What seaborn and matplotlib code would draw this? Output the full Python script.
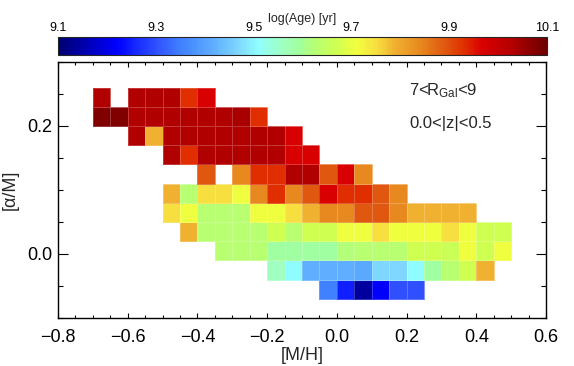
import numpy as np
import pandas as pd
import matplotlib
matplotlib.use("Agg")
import matplotlib.pyplot as plt
from matplotlib.colors import LinearSegmentedColormap
from matplotlib.ticker import MultipleLocator
import seaborn as sns

sns.set_style("ticks")
plt.rcParams['font.family'] = ['Liberation Sans', 'DejaVu Sans']
plt.rcParams['mathtext.fontset'] = 'custom'
plt.rcParams['mathtext.rm'] = 'Liberation Sans'
plt.rcParams['mathtext.it'] = 'Liberation Sans:italic'
plt.rcParams['axes.unicode_minus'] = True

# ---- data: bin centres and mean log(Age) per cell (NaN = empty bin) ----
mh_centers = [-0.675, -0.625, -0.575, -0.525, -0.475, -0.425, -0.375, -0.325,
              -0.275, -0.225, -0.175, -0.125, -0.075, -0.025, 0.025, 0.075,
              0.125, 0.175, 0.225, 0.275, 0.325, 0.375, 0.425, 0.475]
afe_centers = [0.245, 0.215, 0.185, 0.155, 0.125, 0.095, 0.065, 0.035, 0.005,
               -0.025, -0.055]
n = np.nan
log_age = [
    # 0.245
    [10.03, n, 10.03, 10.03, 10.03, 9.93, 9.97, n, n, n, n, n, n, n, n, n, n, n, n, n, n, n, n, n],
    # 0.215
    [10.08, 10.08, 10.03, 10.03, 10.03, 10.03, 10.03, 10.03, 10.04, 9.93, n, n, n, n, n, n, n, n, n, n, n, n, n, n],
    # 0.185
    [n, n, 10.03, 9.79, 10.03, 10.03, 10.03, 10.03, 10.03, 10.03, 10.03, 9.97, n, n, n, n, n, n, n, n, n, n, n, n],
    # 0.155
    [n, n, n, n, 10.03, 9.93, 10.03, 10.03, 10.03, 10.03, 10.03, 9.97, 9.97, n, n, n, n, n, n, n, n, n, n, n],
    # 0.125
    [n, n, n, n, n, n, 9.89, n, 9.84, 9.93, 9.93, 10.03, 10.03, 9.89, 9.97, 9.84, n, n, n, n, n, n, n, n],
    # 0.095
    [n, n, n, n, 9.79, 9.63, 9.75, 9.75, 9.71, 9.84, 9.93, 9.84, 9.89, 9.97, 9.93, 9.93, 9.89, 9.84, n, n, n, n, n, n],
    # 0.065
    [n, n, n, n, 9.75, 9.71, 9.63, 9.63, 9.63, 9.71, 9.71, 9.75, 9.79, 9.84, 9.84, 9.89, 9.89, 9.84, 9.79, 9.79, 9.79, 9.79, n, n],
    # 0.035
    [n, n, n, n, n, 9.79, 9.63, 9.63, 9.63, 9.63, 9.67, 9.63, 9.67, 9.67, 9.71, 9.71, 9.75, 9.71, 9.71, 9.71, 9.75, 9.71, 9.67, 9.67],
    # 0.005
    [n, n, n, n, n, n, n, 9.63, 9.63, 9.63, 9.59, 9.59, 9.59, 9.59, 9.62, 9.63, 9.63, 9.63, 9.67, 9.67, 9.66, 9.71, 9.67, 9.71],
    # -0.025
    [n, n, n, n, n, n, n, n, n, n, 9.56, 9.51, 9.42, 9.42, 9.42, 9.41, 9.47, 9.47, 9.51, 9.59, 9.63, 9.67, 9.79, n],
    # -0.055
    [n, n, n, n, n, n, n, n, n, n, n, n, n, 9.35, 9.25, 9.14, 9.22, 9.30, 9.30, n, n, n, n, n],
]
cbar_ticks = [9.1, 9.3, 9.5, 9.7, 9.9, 10.1]
x_ticks = [-0.8, -0.6, -0.4, -0.2, 0.0, 0.2, 0.4, 0.6]
y_ticks = [0.0, 0.2]

rows = []
for yi, yv in enumerate(afe_centers):
    for xi, xv in enumerate(mh_centers):
        a = log_age[yi][xi]
        if not np.isnan(a):
            rows.append((xv, yv, a))
df = pd.DataFrame(rows, columns=["mh", "afe", "age"])

dx, dy = 0.05, 0.03
x_edges = np.append(np.array(mh_centers) - dx / 2, mh_centers[-1] + dx / 2)
y_sorted = np.sort(afe_centers)
y_edges = np.append(y_sorted - dy / 2, y_sorted[-1] + dy / 2)

# colour table
nodes = [(9.10, "#000070"), (9.14, "#0000A0"), (9.22, "#0000FF"), (9.25, "#1020FF"),
         (9.30, "#3050FF"), (9.35, "#4080FF"), (9.42, "#60B0FF"), (9.47, "#80D8FF"),
         (9.51, "#90FFFF"), (9.56, "#A0FFC0"), (9.59, "#A0FFA0"), (9.63, "#B8FF70"),
         (9.67, "#D0FF50"), (9.71, "#F0FF40"), (9.75, "#F8E040"), (9.79, "#F0B030"),
         (9.84, "#E88A20"), (9.89, "#E05A10"), (9.93, "#E03000"), (9.97, "#D80000"),
         (10.03, "#B40000"), (10.08, "#800000"), (10.10, "#700000")]
vmin, vmax = 9.1, 10.1
cmap = LinearSegmentedColormap.from_list(
    "age", [((v - vmin) / (vmax - vmin), c) for v, c in nodes])

fig = plt.figure(figsize=(5.74, 3.66), dpi=100)
W, H = 574, 366
ax = fig.add_axes([58 / W, 1 - 318 / H, (546 - 58) / W, (318 - 62) / H])
cax = fig.add_axes([58 / W, 1 - 55 / H, (547 - 58) / W, 18 / H])

sns.histplot(data=df, x="mh", y="afe", weights="age",
             bins=[x_edges, y_edges], cmap=cmap, vmin=vmin, vmax=vmax,
             cbar=True, cbar_ax=cax, cbar_kws={"orientation": "horizontal"},
             edgecolor=(1, 1, 1, 0.22), linewidth=0.4, ax=ax)

ax.set_xlim(-0.8, 0.6)
ax.set_ylim(-0.1, 0.3)
ax.set_xticks(x_ticks)
ax.set_xticklabels([f"{v:.1f}".replace("-", "\u2212") for v in x_ticks])
ax.set_yticks(y_ticks)
ax.set_yticklabels([f"{v:.1f}" for v in y_ticks])
ax.xaxis.set_minor_locator(MultipleLocator(0.05))
ax.yaxis.set_minor_locator(MultipleLocator(0.05))
ax.tick_params(which="both", direction="in", top=True, right=True,
               width=0.8, colors="black", labelsize=13)
ax.tick_params(axis="x", which="major", length=3.6, pad=8)
ax.tick_params(axis="x", which="minor", length=2.0)
ax.tick_params(axis="y", which="major", length=7.2, pad=4)
ax.tick_params(axis="y", which="minor", length=3.6)
for s in ax.spines.values():
    s.set_visible(True)
    s.set_linewidth(1.0)
    s.set_color("black")
ax.set_xlabel("[M/H]", fontsize=13, labelpad=1)
ax.set_ylabel("[\u03b1/M]", fontsize=13, labelpad=6)

fig.text(409 / W, 1 - 95 / H, r"7<R$_{\rm Gal}$<9", fontsize=12,
         ha="left", va="baseline")
fig.text(409 / W, 1 - 128 / H, "0.0<|z|<0.5", fontsize=12,
         ha="left", va="baseline")

# colour bar
cax.set_xlim(vmin, vmax)
cax.set_xticks(cbar_ticks)
cax.set_xticklabels([f"{v:.1f}" for v in cbar_ticks])
cax.xaxis.set_minor_locator(MultipleLocator(0.1))
cax.tick_params(which="both", direction="in", top=True, bottom=True,
                labeltop=True, labelbottom=False, labelsize=9, pad=2,
                width=0.7, colors="black")
cax.tick_params(which="major", length=2.5)
cax.tick_params(which="minor", length=1.8)
for s in cax.spines.values():
    s.set_linewidth(0.8)
fig.text(302 / W, 1 - 22 / H, "log(Age) [yr]", fontsize=9,
         ha="center", va="baseline")

fig.savefig("out.png", dpi=100)
